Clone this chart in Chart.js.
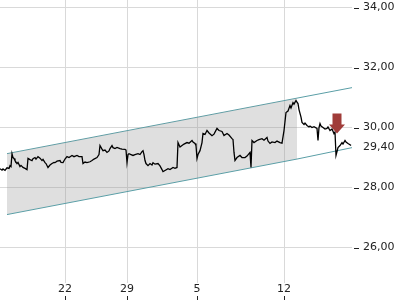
<!DOCTYPE html>
<html>
<head>
<meta charset="utf-8">
<script src="https://cdn.jsdelivr.net/npm/chart.js@4/dist/chart.umd.min.js"></script>
<style>
  html, body { margin: 0; padding: 0; background: #fff; }
  #wrap { width: 400px; height: 300px; }
</style>
</head>
<body>
<div id="wrap"><canvas id="chart"></canvas></div>
<script>
// trading time (session position) and price
const priceTimes = [0,2,3,5,7,9,10,11,12,13,14,15,17,18,20,21,23,25,27,28,30,32,33,35,36,38,40,42,43,45,46,48,50,52,54,55,57,60,61,63,65,67,69,72,74,77,79,82,83,85,87,90,92,94,97,99,100,102,103,105,107,109,110,112,113,115,117,120,122,125,126,127,128,129,131,133,135,138,140,142,143,144,145,146,148,150,152,153,155,158,160,162,163,165,168,170,173,175,177,178,180,182,184,187,189,192,193,195,196,197,198,200,202,203,205,207,209,212,214,217,219,222,224,227,229,232,233,234,235,237,240,242,245,247,250,251,252,254,257,259,262,264,267,268,270,272,275,277,280,282,284,285,286,288,290,291,293,294,296,297,298,299,300,301,302,304,305,307,309,310,312,314,317,318,319,320,321,323,325,327,328,330,332,334,335,336,337,338,340,342,343,345,346,348,350,351];
const prices = [28.63,28.58,28.62,28.57,28.66,28.64,28.73,28.70,29.13,29.00,28.97,28.90,28.80,28.84,28.70,28.74,28.67,28.64,28.60,28.97,28.93,28.90,28.96,29.00,28.95,29.03,28.98,28.90,28.94,28.83,28.80,28.67,28.75,28.80,28.84,28.83,28.88,28.90,28.84,28.83,28.95,29.03,29.00,29.07,29.03,29.07,29.03,29.03,28.80,28.85,28.83,28.86,28.90,28.95,29.00,29.10,29.40,29.28,29.23,29.25,29.17,29.22,29.30,29.40,29.33,29.30,29.34,29.30,29.28,29.27,29.25,28.83,29.10,29.13,29.10,29.07,29.10,29.13,29.10,29.20,29.23,29.10,28.90,28.80,28.73,28.80,28.75,28.83,28.78,28.80,28.72,28.60,28.53,28.57,28.63,28.60,28.67,28.64,28.67,29.50,29.35,29.40,29.45,29.50,29.48,29.57,29.52,29.47,29.40,28.97,29.10,29.23,29.50,29.80,29.77,29.90,29.82,29.73,29.78,29.97,29.90,29.87,29.73,29.80,29.75,29.63,29.60,29.17,28.90,29.00,29.07,29.00,29.00,29.05,29.17,28.67,29.57,29.50,29.57,29.60,29.63,29.58,29.67,29.55,29.47,29.52,29.50,29.55,29.50,29.48,29.90,30.20,30.50,30.55,30.73,30.65,30.83,30.78,30.90,30.85,30.80,30.60,30.47,30.35,30.17,30.10,30.15,30.07,30.02,30.05,30.00,30.03,29.97,29.57,30.00,30.13,30.05,30.00,29.95,29.97,30.02,29.90,29.95,29.80,29.85,29.07,29.20,29.33,29.40,29.50,29.45,29.57,29.52,29.47,29.43,29.40];

// trend channel (start, end of shaded zone, end)
const channelTimes = [7, 297, 352];
const channelUpper = [29.13, 30.98, 31.33];
const channelLower = [27.10, 28.95, 29.33];

// sell signal
const signalTimes = [337];
const signalPrices = [29.80];

// axes
const dayTicks = [65, 127, 197, 284];
const dayLabels = ['22', '29', '5', '12'];
const priceTicks = [26, 28, 30, 32, 34];
const lastPrice = 29.40;

const toXY = (xs, ys) => xs.map((x, i) => ({ x: x, y: ys[i] }));
const fmt = v => v.toFixed(2).replace('.', ',');

const extras = {
    id: 'extras',
    afterDraw(chart) {
        const ctx = chart.ctx;
        const xs = chart.scales.x, ys = chart.scales.y;
        const area = chart.chartArea;
        ctx.save();
        ctx.strokeStyle = '#222';
        ctx.lineWidth = 1;
        // small tick dashes
        ctx.beginPath();
        priceTicks.forEach(v => {
            const y = Math.round(ys.getPixelForValue(v)) + 0.5;
            ctx.moveTo(area.right + 2, y);
            ctx.lineTo(area.right + 7, y);
        });
        dayTicks.forEach(v => {
            const x = Math.round(xs.getPixelForValue(v)) + 0.5;
            ctx.moveTo(x, chart.height - 4);
            ctx.lineTo(x, chart.height);
        });
        ctx.stroke();
        // last price label (no grid line)
        ctx.fillStyle = '#222';
        ctx.font = '11px "DejaVu Sans"';
        ctx.textBaseline = 'middle';
        ctx.fillText(fmt(lastPrice), area.right + 11, ys.getPixelForValue(lastPrice) + 2);
        // signal arrow
        ctx.fillStyle = '#a03c39';
        signalTimes.forEach((t, i) => {
            const x = xs.getPixelForValue(t);
            const y = ys.getPixelForValue(signalPrices[i]);
            ctx.beginPath();
            ctx.moveTo(x - 4.5, y - 20);
            ctx.lineTo(x + 4.5, y - 20);
            ctx.lineTo(x + 4.5, y - 9);
            ctx.lineTo(x + 8, y - 9);
            ctx.lineTo(x, y);
            ctx.lineTo(x - 8, y - 9);
            ctx.lineTo(x - 4.5, y - 9);
            ctx.closePath();
            ctx.fill();
        });
        ctx.restore();
    }
};

new Chart(document.getElementById('chart'), {
    type: 'line',
    data: {
        datasets: [
            {
                data: toXY(channelTimes, channelUpper),
                borderColor: '#5a9ea6',
                borderWidth: 1,
                pointRadius: 0,
                fill: false,
                order: 2
            },
            {
                data: toXY(channelTimes, channelLower),
                borderColor: '#5a9ea6',
                borderWidth: 1,
                pointRadius: 0,
                fill: '-1',
                backgroundColor: 'rgba(150,150,150,0.3)',
                segment: {
                    backgroundColor: c => c.p0DataIndex === 0 ? 'rgba(150,150,150,0.3)' : 'rgba(0,0,0,0)'
                },
                order: 1
            },
            {
                data: toXY(priceTimes, prices),
                borderColor: '#000',
                borderWidth: 1.3,
                pointRadius: 0,
                tension: 0,
                fill: false,
                order: 0
            }
        ]
    },
    options: {
        responsive: true,
        maintainAspectRatio: false,
        animation: false,
        layout: { padding: 0 },
        plugins: {
            legend: { display: false },
            tooltip: { enabled: false }
        },
        scales: {
            x: {
                type: 'linear',
                min: 0,
                max: 352,
                afterBuildTicks: s => { s.ticks = dayTicks.map(v => ({ value: v })); },
                afterFit: s => { s.height = 17; },
                border: { display: false },
                grid: { color: '#d9d9d9', drawTicks: false },
                ticks: {
                    padding: 0,
                    maxRotation: 0,
                    color: '#222',
                    font: { family: 'DejaVu Sans', size: 11 },
                    callback: (v) => dayLabels[dayTicks.indexOf(v)]
                }
            },
            y: {
                position: 'right',
                min: 24.82,
                max: 34.25,
                afterBuildTicks: s => { s.ticks = priceTicks.map(v => ({ value: v })); },
                afterFit: s => { s.width = 48; s.paddingTop = 0; s.paddingBottom = 0; },
                border: { display: false },
                grid: { drawTicks: false, color: '#d9d9d9' },
                ticks: {
                    padding: 11,
                    color: '#222',
                    font: { family: 'DejaVu Sans', size: 11 },
                    callback: v => fmt(v)
                }
            }
        }
    },
    plugins: [extras]
});
</script>
</body>
</html>
